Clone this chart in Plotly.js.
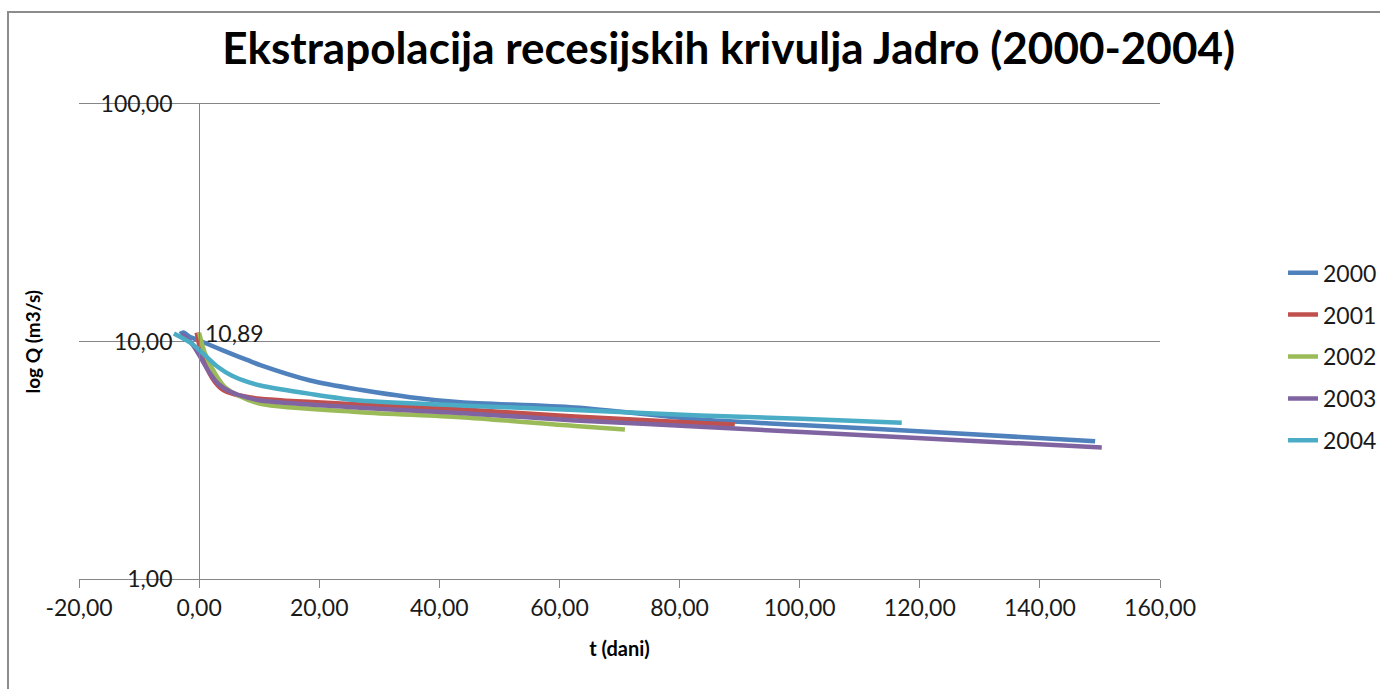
<!DOCTYPE html>
<html>
<head>
<meta charset="utf-8">
<script src="https://cdn.plot.ly/plotly-3.0.1.min.js"></script>
<style>
  html, body { margin: 0; padding: 0; background: #fff; overflow: hidden; width: 1380px; height: 689px; }
  #chart { position: absolute; left: 0; top: 0; width: 1380px; height: 689px; }
  #frame { position: absolute; left: 7px; top: 11px; width: 1371px; height: 676px;
           border-left: 2px solid #8c8c8c; border-top: 2px solid #8c8c8c; pointer-events: none; }
</style>
</head>
<body>
<div id="chart"></div>
<div id="frame"></div>
<script>
// ---- data ----
const seriesNames = ["2000", "2001", "2002", "2003", "2004"];

const t2000 = [-3.2, -2.6, -1.5, 0, 2.7, 5.4, 8.2, 10.2, 18.5, 26.8, 35.1, 43.5, 62.6, 83.4, 100.1, 125.0, 149.2];
const q2000 = [10.75, 10.9, 10.45, 10.1, 9.46, 8.87, 8.32, 7.95, 6.85, 6.26, 5.83, 5.55, 5.27, 4.69, 4.45, 4.12, 3.80];

const t2001 = [-0.4, 0.4, 2.1, 3.8, 6.0, 10.2, 26.8, 43.5, 62.6, 83.4, 89.2];
const q2001 = [10.9, 8.87, 7.07, 6.30, 5.98, 5.74, 5.43, 5.18, 4.83, 4.54, 4.47];

const t2002 = [0, 1.0, 2.7, 4.3, 6.5, 10.2, 26.8, 43.5, 62.6, 70.9];
const q2002 = [10.89, 8.87, 7.3, 6.42, 5.93, 5.47, 5.04, 4.80, 4.41, 4.26];

const t2003 = [-2.9, -1.2, -0.1, 1.5, 3.2, 5.4, 8.2, 10.2, 26.8, 43.5, 62.6, 83.4, 125.0, 150.3];
const q2003 = [10.77, 9.78, 8.87, 7.55, 6.63, 6.11, 5.79, 5.64, 5.26, 5.0, 4.65, 4.38, 3.86, 3.58];

const t2004 = [-4.2, -1.2, 1.0, 3.2, 5.4, 8.2, 10.2, 18.5, 26.8, 43.5, 62.6, 83.4, 100.1, 117.0];
const q2004 = [10.8, 9.78, 8.73, 7.79, 7.19, 6.74, 6.53, 6.02, 5.64, 5.38, 5.15, 4.88, 4.73, 4.55];

const xTickVals = [-20, 0, 20, 40, 60, 80, 100, 120, 140, 160];
const xTickText = ["-20,00", "0,00", "20,00", "40,00", "60,00", "80,00", "100,00", "120,00", "140,00", "160,00"];
const yTickVals = [1, 10, 100];
const yTickText = ["1,00", "10,00", "100,00"];

const colors = ["#4F81BD", "#C0504D", "#9BBB59", "#8064A2", "#4BACC6"];
const xs = [t2000, t2001, t2002, t2003, t2004];
const ys = [q2000, q2001, q2002, q2003, q2004];

const FONT = "Lato, 'Liberation Sans', Arial, sans-serif";

const traces = seriesNames.map((n, i) => ({
  type: "scatter",
  mode: "lines",
  name: n,
  legendgroup: "g" + i,
  x: xs[i],
  y: ys[i],
  line: { color: colors[i], width: 4.5, shape: "spline", smoothing: 0.8 },
  hoverinfo: "x+y+name"
}));

// data label on the 2002 series first point
const labelPoint = { x: t2002[0], y: q2002[0] };

const layout = {
  width: 1380,
  height: 689,
  separators: ",.",
  paper_bgcolor: "#ffffff",
  plot_bgcolor: "#ffffff",
  margin: { l: 79, r: 220, t: 104, b: 110, pad: 0, autoexpand: false },
  font: { family: FONT, size: 22, color: "#1a1a1a" },
  title: {
    text: "<b>Ekstrapolacija recesijskih krivulja Jadro (2000-2004)</b>",
    font: { family: FONT, size: 44, color: "#000" },
    x: 0.528, xanchor: "center",
    y: 0.93, yanchor: "middle", xref: "container", yref: "container"
  },
  xaxis: {
    range: [-20, 160],
    tickmode: "array",
    tickvals: xTickVals,
    ticktext: xTickText,
    showgrid: false,
    zeroline: false,
    showline: true,
    mirror: true,
    linecolor: "#868686",
    linewidth: 1,
    ticks: "outside",
    ticklen: 8,
    tickcolor: "#868686",
    tickfont: { family: FONT, size: 23, color: "#1a1a1a" },
    title: { text: "<b>t (dani)</b>", font: { family: FONT, size: 20, color: "#000" }, standoff: 22 },
    automargin: false,
    fixedrange: true
  },
  yaxis: {
    type: "log",
    range: [0, 2],
    tickmode: "array",
    tickvals: yTickVals,
    ticktext: yTickText,
    anchor: "free",
    position: 20 / 180,
    showgrid: true,
    gridcolor: "#868686",
    gridwidth: 1,
    zeroline: false,
    showline: true,
    linecolor: "#868686",
    linewidth: 1,
    ticks: "",
    ticklabelstandoff: 22,
    tickfont: { family: FONT, size: 23, color: "#1a1a1a" },
    automargin: false,
    fixedrange: true
  },
  legend: {
    x: 1.1138, xanchor: "left",
    y: 0.69, yanchor: "top",
    font: { family: FONT, size: 23, color: "#1a1a1a" },
    tracegroupgap: 9,
    bgcolor: "rgba(0,0,0,0)",
    borderwidth: 0
  },
  annotations: [
    {
      x: labelPoint.x, y: Math.log10(labelPoint.y), xref: "x", yref: "y",
      text: labelPoint.y.toFixed(2).replace(".", ","),
      showarrow: false, xanchor: "left", yanchor: "middle", xshift: 4,
      font: { family: FONT, size: 23, color: "#1a1a1a" }
    },
    {
      x: -0.0426, y: 0.5, xref: "paper", yref: "paper",
      text: "<b>log Q (m3/s)</b>", textangle: -90, showarrow: false,
      xanchor: "center", yanchor: "middle",
      font: { family: FONT, size: 19, color: "#000" }
    }
  ]
};

Plotly.newPlot("chart", traces, layout, { displayModeBar: false, staticPlot: true });
</script>
</body>
</html>
